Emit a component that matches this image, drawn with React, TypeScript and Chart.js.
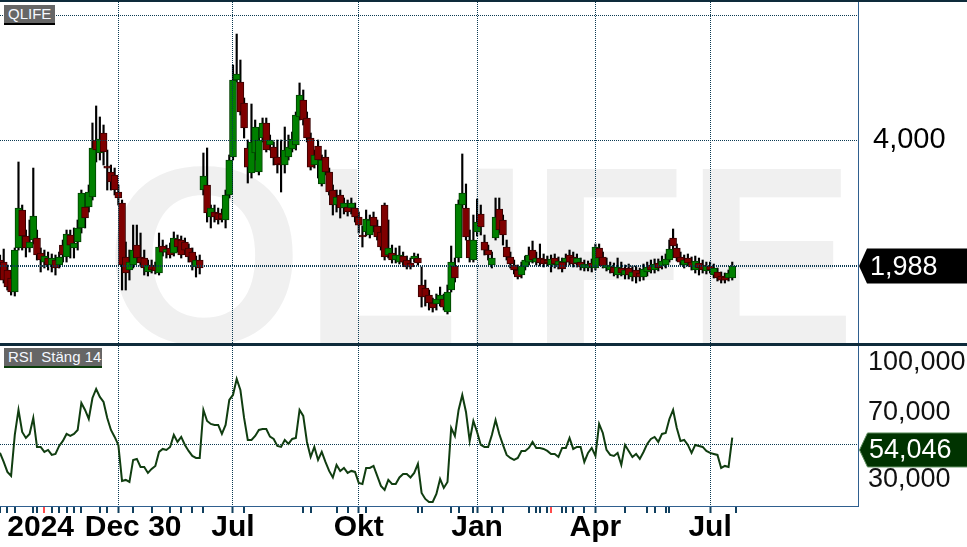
import React, { useEffect, useRef } from 'react';
import { Chart, registerables } from 'chart.js';

Chart.register(...registerables);

// ---- price data (SEK, one candle per slot) ----
const opens = [
  2.056, 2.033, 1.945, 1.861, 1.722, 2.198, 2.713, 2.349, 2.198, 2.297,
  2.323, 2.137, 2.033, 2.079, 2.000, 2.056, 2.000, 2.234, 2.091, 2.362,
  2.198, 2.272, 2.456, 2.759, 2.759, 2.916, 4.000, 3.722, 4.158, 3.463,
  3.350, 3.295, 2.998, 2.820, 2.091, 1.945, 2.000, 2.234, 2.091, 2.079,
  1.924, 2.000, 1.989, 1.913, 2.222, 2.149, 2.198, 2.137, 2.310, 2.297,
  2.272, 2.198, 2.149, 1.978, 2.056, 3.031, 3.117, 2.610, 2.683, 2.668,
  2.654, 2.567, 2.949, 3.640, 5.579, 5.518, 4.911, 3.827, 3.331, 3.722,
  3.350, 4.044, 4.396, 3.891, 3.848, 3.640, 3.521, 3.482, 3.640, 3.806,
  3.891, 4.545, 4.993, 4.519, 4.044, 3.482, 3.869, 3.134, 3.640, 3.350,
  3.031, 2.789, 2.949, 2.743, 2.759, 2.743, 2.743, 2.610, 2.362, 2.402,
  2.362, 2.610, 2.483, 2.402, 2.789, 2.114, 2.137, 2.056, 2.033, 2.102,
  2.056, 2.022, 2.068, 2.079, 1.790, 1.761, 1.693, 1.620, 1.611, 1.647,
  1.656, 1.541, 1.741, 1.989, 2.079, 2.789, 2.743, 2.297, 2.056, 2.402,
  2.654, 2.272, 2.173, 2.000, 2.323, 2.728, 2.567, 2.210, 2.091, 2.000,
  1.945, 1.892, 1.978, 2.033, 2.173, 2.033, 2.079, 2.068, 2.056, 2.000,
  2.079, 2.000, 2.033, 2.033, 2.114, 2.091, 2.022, 2.033, 1.967, 1.967,
  2.022, 1.967, 2.198, 2.091, 1.967, 1.945, 1.978, 1.892, 1.967, 1.892,
  1.967, 1.871, 1.945, 1.913, 1.871, 1.924, 2.000, 1.945, 2.022, 1.989,
  2.000, 2.056, 2.323, 2.198, 2.091, 2.000, 2.079, 2.033, 1.945, 2.022,
  2.000, 1.935, 1.989, 1.892, 1.924, 1.882, 1.871, 1.861, 1.861,
];
const highs = [
  2.114, 2.185, 2.000, 1.924, 2.198, 3.541, 2.789, 2.428, 2.567, 3.424,
  2.428, 2.198, 2.173, 2.149, 2.126, 2.114, 2.149, 2.297, 2.428, 2.428,
  2.456, 2.567, 3.031, 2.900, 3.117, 4.396, 4.831, 4.545, 4.347, 3.784,
  3.482, 3.424, 3.117, 2.868, 2.272, 2.173, 2.496, 2.496, 2.388, 2.173,
  2.056, 2.056, 2.033, 2.388, 2.297, 2.234, 2.259, 2.402, 2.362, 2.349,
  2.323, 2.247, 2.198, 2.102, 2.114, 3.722, 3.827, 2.789, 2.789, 2.743,
  2.728, 3.031, 3.681, 6.063, 7.199, 6.233, 5.049, 4.000, 4.884, 4.469,
  4.112, 4.519, 4.519, 4.112, 3.956, 4.000, 4.000, 4.299, 4.112, 4.181,
  4.672, 5.488, 5.278, 4.672, 4.158, 3.784, 4.000, 3.681, 3.784, 3.424,
  3.117, 3.031, 3.031, 2.900, 2.868, 2.900, 2.820, 2.683, 2.483, 2.713,
  2.639, 2.683, 2.567, 2.456, 2.820, 2.567, 2.234, 2.198, 2.222, 2.149,
  2.102, 2.079, 2.137, 2.126, 1.978, 1.840, 1.741, 1.665, 1.703, 1.770,
  1.703, 1.790, 2.222, 2.079, 2.868, 3.702, 3.134, 2.428, 2.639, 2.884,
  2.789, 2.362, 2.234, 2.149, 2.900, 2.900, 2.639, 2.297, 2.149, 2.056,
  2.000, 2.033, 2.102, 2.210, 2.284, 2.149, 2.247, 2.126, 2.102, 2.114,
  2.126, 2.091, 2.079, 2.126, 2.173, 2.149, 2.126, 2.079, 2.056, 2.045,
  2.068, 2.247, 2.247, 2.149, 2.079, 2.033, 2.022, 2.079, 2.033, 2.000,
  2.011, 1.989, 1.989, 1.967, 2.011, 2.033, 2.056, 2.068, 2.068, 2.102,
  2.126, 2.297, 2.442, 2.247, 2.149, 2.114, 2.126, 2.091, 2.102, 2.079,
  2.056, 2.033, 2.033, 2.011, 1.967, 1.924, 1.913, 1.945, 2.033,
];
const lows = [
  1.924, 1.810, 1.741, 1.693, 1.684, 2.173, 2.173, 2.091, 2.149, 2.247,
  2.056, 1.924, 1.967, 1.945, 1.924, 1.892, 1.967, 2.033, 2.033, 2.079,
  2.079, 2.173, 2.388, 2.456, 2.683, 2.868, 3.541, 3.580, 3.482, 3.031,
  3.031, 2.949, 2.789, 1.741, 1.741, 1.840, 1.967, 2.033, 1.989, 1.892,
  1.882, 1.913, 1.903, 1.892, 2.102, 2.079, 2.079, 2.102, 2.149, 2.079,
  2.126, 2.033, 1.945, 1.871, 1.903, 2.949, 2.538, 2.456, 2.538, 2.510,
  2.538, 2.456, 2.900, 3.580, 5.518, 4.595, 4.044, 3.151, 3.240, 3.580,
  3.295, 3.956, 3.743, 3.784, 3.482, 3.331, 2.998, 3.331, 3.580, 3.743,
  3.784, 4.469, 4.347, 3.956, 3.387, 3.424, 3.240, 3.099, 3.295, 2.949,
  2.639, 2.683, 2.595, 2.654, 2.624, 2.654, 2.538, 2.388, 2.210, 2.349,
  2.323, 2.402, 2.297, 2.173, 2.056, 2.079, 2.022, 2.022, 2.011, 2.000,
  1.956, 1.956, 2.033, 2.000, 1.584, 1.593, 1.558, 1.541, 1.558, 1.593,
  1.558, 1.524, 1.722, 1.820, 2.033, 2.743, 2.297, 2.033, 2.033, 2.349,
  2.362, 2.114, 2.056, 1.967, 2.297, 2.388, 2.234, 2.056, 1.967, 1.903,
  1.851, 1.861, 1.945, 2.000, 2.022, 2.000, 1.989, 1.978, 1.989, 1.924,
  1.967, 1.956, 1.924, 1.989, 2.000, 1.978, 1.978, 1.945, 1.935, 1.935,
  1.924, 1.945, 2.045, 1.967, 1.935, 1.913, 1.882, 1.861, 1.882, 1.851,
  1.851, 1.830, 1.810, 1.830, 1.840, 1.882, 1.913, 1.913, 1.935, 1.956,
  1.967, 2.033, 2.173, 2.045, 2.000, 1.967, 1.989, 1.945, 1.913, 1.892,
  1.913, 1.903, 1.913, 1.861, 1.830, 1.810, 1.810, 1.830, 1.840,
];
const closes = [
  1.945, 1.840, 1.770, 1.722, 2.173, 2.743, 2.349, 2.198, 2.272, 2.624,
  2.114, 2.056, 2.102, 2.000, 2.079, 1.967, 2.091, 2.114, 2.375, 2.234,
  2.259, 2.456, 2.982, 2.595, 2.998, 3.827, 3.784, 4.022, 3.743, 3.424,
  3.169, 3.031, 2.900, 2.000, 1.913, 2.033, 2.173, 2.079, 2.022, 1.967,
  2.000, 1.945, 1.935, 2.210, 2.149, 2.185, 2.114, 2.323, 2.210, 2.114,
  2.173, 2.091, 2.033, 2.056, 1.967, 3.276, 2.668, 2.743, 2.610, 2.567,
  2.581, 2.949, 3.580, 5.579, 5.767, 4.672, 4.275, 3.443, 3.956, 4.299,
  4.000, 4.396, 3.784, 4.000, 3.620, 3.482, 3.482, 3.784, 3.848, 4.022,
  4.595, 5.134, 4.469, 4.044, 3.443, 3.681, 3.580, 3.580, 3.350, 2.998,
  2.789, 2.916, 2.743, 2.820, 2.683, 2.820, 2.610, 2.496, 2.336, 2.581,
  2.567, 2.483, 2.336, 2.210, 2.091, 2.198, 2.056, 2.114, 2.114, 2.033,
  1.978, 1.978, 2.102, 2.022, 1.675, 1.675, 1.620, 1.576, 1.656, 1.693,
  1.584, 1.722, 2.033, 1.861, 2.805, 2.982, 2.336, 2.079, 2.297, 2.538,
  2.469, 2.173, 2.114, 2.079, 2.610, 2.428, 2.362, 2.091, 2.011, 1.945,
  1.871, 1.989, 2.056, 2.114, 2.056, 2.079, 2.022, 2.011, 2.022, 2.068,
  2.011, 2.045, 1.956, 2.079, 2.033, 2.011, 2.079, 1.978, 2.011, 2.000,
  1.978, 2.210, 2.079, 1.989, 2.000, 1.989, 1.913, 1.978, 1.913, 1.945,
  1.892, 1.924, 1.871, 1.871, 1.956, 1.978, 1.945, 2.011, 1.967, 2.045,
  2.068, 2.185, 2.222, 2.079, 2.033, 2.056, 2.022, 1.978, 2.045, 1.967,
  1.945, 1.989, 1.945, 1.967, 1.861, 1.840, 1.840, 1.913, 1.988,
];

// ---- RSI (close, 14) ----
const rsi = [
  44.9, 39.4, 33.4, 31.0, 55.6, 70.6, 57.4, 53.8, 56.2, 65.8,
  48.4, 48.4, 45.4, 46.6, 43.6, 44.2, 49.0, 52.0, 56.2, 55.0,
  56.2, 58.6, 74.8, 70.6, 65.2, 77.8, 83.2, 78.4, 75.4, 65.8,
  58.6, 54.4, 49.6, 28.0, 28.6, 27.4, 40.6, 41.2, 36.4, 36.4,
  32.8, 35.2, 37.0, 45.4, 47.2, 46.6, 48.4, 55.6, 51.4, 54.4,
  49.6, 46.0, 43.0, 41.8, 41.8, 70.6, 64.0, 62.2, 61.6, 61.6,
  56.2, 61.6, 76.6, 79.6, 89.2, 82.6, 65.8, 52.6, 52.6, 55.0,
  58.6, 59.2, 59.2, 54.6, 53.2, 49.0, 48.4, 52.6, 50.2, 53.2,
  53.8, 70.6, 67.0, 51.4, 42.4, 48.4, 40.6, 45.4, 39.4, 34.0,
  30.1, 37.6, 34.0, 35.8, 32.8, 34.0, 33.4, 26.8, 26.2, 35.8,
  35.8, 37.0, 31.0, 25.0, 22.6, 28.6, 26.2, 26.2, 30.1, 32.2,
  32.2, 30.1, 32.8, 38.2, 20.8, 17.2, 15.4, 15.4, 20.2, 29.2,
  23.8, 27.4, 59.8, 55.0, 70.6, 79.6, 69.4, 52.0, 64.0, 57.4,
  49.6, 48.4, 48.4, 55.6, 64.6, 56.2, 49.6, 43.6, 41.8, 40.6,
  41.8, 46.0, 46.0, 47.8, 51.4, 47.8, 47.8, 47.2, 46.0, 44.2,
  44.2, 42.4, 47.8, 47.8, 53.8, 47.2, 48.4, 48.4, 39.4, 44.8,
  47.8, 43.0, 62.2, 56.8, 46.6, 43.6, 43.0, 44.8, 37.6, 49.6,
  46.0, 42.4, 44.2, 41.2, 45.4, 50.2, 53.2, 54.4, 51.4, 56.2,
  56.8, 65.2, 70.6, 59.8, 52.0, 52.6, 49.6, 44.8, 49.6, 49.0,
  48.4, 46.0, 44.8, 44.2, 43.6, 35.8, 37.0, 36.4, 54.046,
];

// ---- time axis ----
const SLOT_COUNT = 233;
const tickSlots = [11, 36, 63, 97, 129, 161, 192];
const tickTexts = ['2024', 'Dec 30', 'Jul', 'Okt', 'Jan', 'Apr', 'Jul'];
const gridSlots = [32, 63, 97, 129, 161, 192];
const markSlots = [
  0, 2, 4, 9, 10, 14, 16, 18, 20, 22, 27, 29, 32, 36, 41, 46, 49, 52, 55, 63,
  66, 82, 84, 91, 94, 97, 99, 113, 114, 122, 124, 128, 129, 133, 136, 143, 145,
  146, 148, 152, 153, 155, 158, 161, 169, 175, 177, 180, 181, 192, 199,
];
const redMarkSlots = [12, 149];

// ---- value axes ----
const PRICE_MIN = 1.2835;
const PRICE_MAX = 8.694;
const priceTicks = [2, 4, 8];
const priceLabelled = [4];
const RSI_MIN = 12.94;
const RSI_MAX = 109.0;
const rsiTicks = [30, 50, 70, 100];
const rsiLabelled = [30, 70, 100];
const RSI_GUIDE = 50;

const FONT = '"Liberation Sans", Arial, Helvetica, sans-serif';
const GRID = '#0b3a52';
const NONE = 'rgba(0,0,0,0)';
const AXIS_BLUE = '#2f5f8f';
const UP = '#008000';
const UP_BORDER = '#003f00';
const DOWN = '#7f0000';
const DOWN_BORDER = '#380000';

const fmt = (v: number) => v.toFixed(3).replace('.', ',');
const slotLabels = Array.from({ length: SLOT_COUNT }, (_, i) => {
  const k = tickSlots.indexOf(i);
  return k >= 0 ? tickTexts[k] : '';
});
const isGridSlot = (c: any) => c && c.type === 'tick' && gridSlots.includes(c.index);

const pricePlugin = {
  id: 'priceDeco',
  beforeDraw(chart: any) {
    const { ctx, chartArea } = chart;
    ctx.save();
    ctx.beginPath();
    ctx.rect(chartArea.left, chartArea.top, chartArea.right - chartArea.left, chartArea.bottom - chartArea.top);
    ctx.clip();
    ctx.fillStyle = '#f0f0f0';
    ctx.font = `bold 255px ${FONT}`;
    ctx.textBaseline = 'alphabetic';
    ctx.textAlign = 'left';
    ctx.fillText('QLIFE', 105, 344);
    ctx.restore();
  },
  afterDatasetsDraw(chart: any) {
    const { ctx, chartArea, scales } = chart;
    const y = Math.round(scales.y.getPixelForValue(closes[closes.length - 1])) + 0.5;
    ctx.save();
    ctx.strokeStyle = GRID;
    ctx.lineWidth = 1;
    ctx.setLineDash([1, 1]);
    ctx.beginPath();
    ctx.moveTo(chartArea.left, y);
    ctx.lineTo(chartArea.right, y);
    ctx.stroke();
    ctx.restore();
  },
  afterDraw(chart: any) {
    const { ctx, chartArea, scales, width } = chart;
    ctx.save();
    ctx.fillStyle = '#0e2b3b';
    ctx.fillRect(0, 0, width, 2);
    ctx.fillRect(0, 343, width, 3);
    const last = closes[closes.length - 1];
    const py = scales.y.getPixelForValue(last);
    const left = chartArea.right + 1;
    ctx.fillStyle = '#000';
    ctx.beginPath();
    ctx.moveTo(left, py);
    ctx.lineTo(left + 8, py - 17.5);
    ctx.lineTo(width, py - 17.5);
    ctx.lineTo(width, py + 17.5);
    ctx.lineTo(left + 8, py + 17.5);
    ctx.closePath();
    ctx.fill();
    ctx.fillStyle = '#fff';
    ctx.font = `27px ${FONT}`;
    ctx.textBaseline = 'middle';
    ctx.textAlign = 'left';
    ctx.fillText(fmt(last), 870, py + 1);
    ctx.restore();
  },
};

const rsiPlugin = {
  id: 'rsiDeco',
  afterDraw(chart: any) {
    const { ctx, chartArea, scales, width } = chart;
    const last = rsi[rsi.length - 1];
    let py = scales.y.getPixelForValue(last);
    py = Math.max(py, scales.y.getPixelForValue(70) + 39);
    const left = chartArea.right + 1.5;
    ctx.save();
    ctx.fillStyle = '#003300';
    ctx.strokeStyle = '#5f8f5f';
    ctx.lineWidth = 1;
    ctx.beginPath();
    ctx.moveTo(left, py);
    ctx.lineTo(left + 8, py - 17);
    ctx.lineTo(width + 1, py - 17);
    ctx.lineTo(width + 1, py + 17);
    ctx.lineTo(left + 8, py + 17);
    ctx.closePath();
    ctx.fill();
    ctx.stroke();
    ctx.fillStyle = '#fff';
    ctx.font = `27px ${FONT}`;
    ctx.textBaseline = 'middle';
    ctx.textAlign = 'left';
    ctx.fillText(fmt(last), 869, py + 1);
    ctx.restore();
  },
};

function priceConfig(): any {
  return {
    type: 'bar',
    data: {
      labels: slotLabels,
      datasets: [
        {
          label: 'body',
          data: opens.map((o, i) => [o, closes[i]]),
          backgroundColor: opens.map((o, i) => (closes[i] >= o ? UP : DOWN)),
          borderColor: opens.map((o, i) => (closes[i] >= o ? UP_BORDER : DOWN_BORDER)),
          borderWidth: 1,
          borderSkipped: false,
          barThickness: 7,
          minBarLength: 2,
          grouped: false,
          order: 1,
        },
        {
          label: 'wick',
          data: lows.map((l, i) => [l, highs[i]]),
          backgroundColor: '#000',
          borderWidth: 0,
          barThickness: 1.5,
          grouped: false,
          order: 2,
        },
      ],
    },
    options: {
      animation: false,
      responsive: false,
      devicePixelRatio: 1,
      layout: { padding: 0 },
      plugins: { legend: { display: false }, tooltip: { enabled: false } },
      scales: {
        x: {
          type: 'category',
          offset: false,
          grid: {
            offset: false,
            z: 1,
            drawTicks: false,
            color: GRID,
            lineWidth: (c: any) => (isGridSlot(c) ? 1 : 0),
          },
          border: { display: false, dash: [1, 1], z: 1 },
          ticks: { display: false, autoSkip: false, z: 1 },
          afterFit: (s: any) => {
            s.height = 1;
            s.paddingLeft = 0;
            s.paddingRight = 0;
          },
        },
        y: {
          type: 'logarithmic',
          position: 'right',
          min: PRICE_MIN,
          max: PRICE_MAX,
          afterBuildTicks: (s: any) => {
            s.ticks = priceTicks.map((v) => ({ value: v }));
          },
          ticks: {
            callback: (v: any) => (priceLabelled.includes(Number(v)) ? fmt(Number(v)) : ''),
            font: { size: 29, family: FONT },
            color: '#000',
            padding: 15,
            z: 1,
          },
          grid: { color: GRID, drawTicks: false, z: 1 },
          border: { display: true, color: AXIS_BLUE, width: 1, dash: [1, 1], z: 1 },
          afterFit: (s: any) => {
            s.width = 109;
            s.paddingTop = 0;
            s.paddingBottom = 0;
          },
        },
      },
    },
    plugins: [pricePlugin],
  };
}

function rsiConfig(): any {
  return {
    type: 'line',
    data: {
      labels: slotLabels,
      datasets: [
        {
          label: 'RSI',
          data: rsi,
          borderColor: '#103d10',
          borderWidth: 2,
          pointRadius: 0,
          tension: 0,
          fill: false,
        },
      ],
    },
    options: {
      animation: false,
      responsive: false,
      devicePixelRatio: 1,
      layout: { padding: 0 },
      plugins: { legend: { display: false }, tooltip: { enabled: false } },
      scales: {
        x: {
          type: 'category',
          offset: false,
          grid: {
            offset: false,
            color: GRID,
            lineWidth: (c: any) => (isGridSlot(c) ? 1 : 0),
            drawTicks: true,
            tickLength: 7,
            tickWidth: 2,
            tickColor: (c: any) =>
              redMarkSlots.includes(c.index) ? '#ff4b4b' : markSlots.includes(c.index) ? '#12405e' : NONE,
          },
          border: { display: true, color: AXIS_BLUE, width: 1, dash: [1, 1] },
          ticks: {
            autoSkip: false,
            maxRotation: 0,
            minRotation: 0,
            padding: 0,
            color: '#000',
            font: { size: 30, weight: 'bold', family: FONT, lineHeight: 1 },
            callback: (_v: any, i: number) => slotLabels[i],
          },
          afterFit: (s: any) => {
            s.height = 41;
            s.paddingLeft = 0;
            s.paddingRight = 0;
          },
        },
        y: {
          type: 'linear',
          position: 'right',
          min: RSI_MIN,
          max: RSI_MAX,
          afterBuildTicks: (s: any) => {
            s.ticks = rsiTicks.map((v) => ({ value: v }));
          },
          ticks: {
            callback: (v: any) => (rsiLabelled.includes(Number(v)) ? fmt(Number(v)) : ''),
            font: { size: 27, family: FONT },
            color: '#111',
            padding: 10,
            labelOffset: 2,
          },
          grid: {
            color: (c: any) => (c && c.tick && c.tick.value === RSI_GUIDE ? GRID : NONE),
            drawTicks: false,
          },
          border: { display: true, color: AXIS_BLUE, width: 1, dash: [1, 1] },
          afterFit: (s: any) => {
            s.width = 109;
            s.paddingTop = 0;
            s.paddingBottom = 0;
          },
        },
      },
    },
    plugins: [rsiPlugin],
  };
}

const badgeBase: React.CSSProperties = {
  position: 'absolute',
  left: 4,
  height: 18,
  lineHeight: '18px',
  paddingLeft: 4,
  background: '#666666',
  color: '#f4f8ff',
  fontFamily: FONT,
  fontSize: 15,
  whiteSpace: 'pre',
  boxSizing: 'content-box',
};

export default function App() {
  const priceRef = useRef<HTMLCanvasElement>(null);
  const rsiRef = useRef<HTMLCanvasElement>(null);

  useEffect(() => {
    Chart.defaults.font.family = FONT;
    const pc = new Chart(priceRef.current as HTMLCanvasElement, priceConfig());
    const rc = new Chart(rsiRef.current as HTMLCanvasElement, rsiConfig());
    return () => {
      pc.destroy();
      rc.destroy();
    };
  }, []);

  return (
    <div
      style={{
        position: 'fixed',
        left: 0,
        top: 0,
        width: 967,
        height: 547,
        background: '#fff',
        overflow: 'hidden',
      }}
    >
      <canvas
        ref={priceRef}
        width={967}
        height={346}
        style={{ position: 'absolute', left: 0, top: 0, display: 'block' }}
      />
      <canvas
        ref={rsiRef}
        width={967}
        height={201}
        style={{ position: 'absolute', left: 0, top: 346, display: 'block' }}
      />
      <div style={{ ...badgeBase, top: 5, width: 47, borderBottom: '2px solid #000' }}>QLIFE</div>
      <div style={{ ...badgeBase, top: 348, width: 94, borderBottom: '2px solid #0b3d0b' }}>RSI  Stäng 14</div>
    </div>
  );
}
